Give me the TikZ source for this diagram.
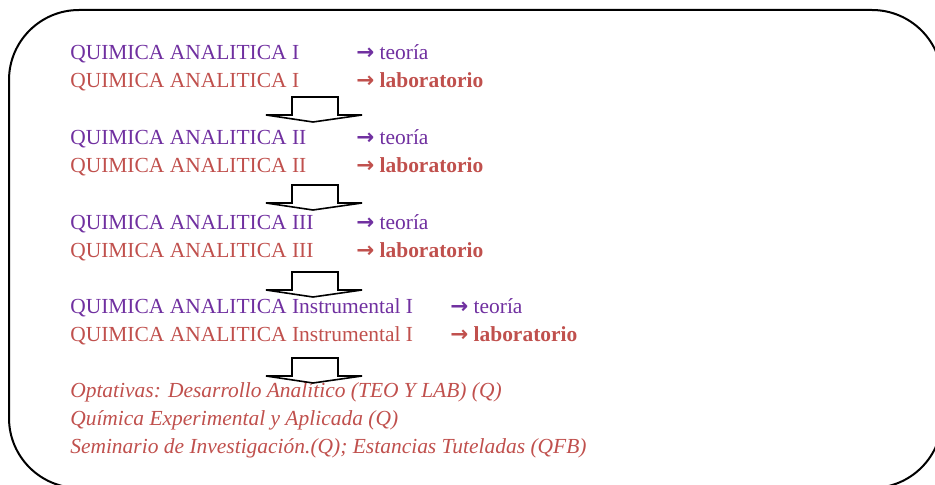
\documentclass[tikz,border=0pt]{standalone}
\usepackage{fontspec}
\setmainfont{Liberation Serif}
\newfontfamily\arrowfont{DejaVu Sans}
\definecolor{qpurple}{HTML}{7030A0}
\definecolor{qred}{HTML}{C0504D}
\newcommand{\qarr}{{\arrowfont\bfseries →}}
\begin{document}
\begin{tikzpicture}[x=0.75pt,y=-0.75pt,
  txt/.style={anchor=base west,inner sep=0pt,font=\fontsize{16.1}{18}\selectfont},
  teo/.style={txt,text=qpurple},
  lab/.style={txt,text=qred},
  opt/.style={txt,text=qred,font=\fontsize{16.1}{18}\selectfont\itshape},
  blockarrow/.style={draw=black,fill=white,line width=1.2pt,line join=miter}]
\useasboundingbox (0,0) rectangle (935,485);
\begin{scope}
  \clip (0,0) rectangle (935,485);
  \draw[line width=1.5pt, rounded corners=52.5pt] (9,10) rectangle (942,488);
\end{scope}

% pair 1
\node[teo] (a1) at (70,60) {QUIMICA ANALITICA I};
\node[teo] (a1r) at (356,60) {\qarr\ teoría};
\node[lab] (b1) at (70,88) {QUIMICA ANALITICA I};
\node[lab] (b1r) at (356,88) {\qarr\ \textbf{laboratorio}};
% pair 2
\node[teo] (a2) at (70,144) {QUIMICA ANALITICA II};
\node[teo] (a2r) at (356,144) {\qarr\ teoría};
\node[lab] (b2) at (70,172) {QUIMICA ANALITICA II};
\node[lab] (b2r) at (356,172) {\qarr\ \textbf{laboratorio}};
% pair 3
\node[teo] (a3) at (70,229) {QUIMICA ANALITICA III};
\node[teo] (a3r) at (356,229) {\qarr\ teoría};
\node[lab] (b3) at (70,257) {QUIMICA ANALITICA III};
\node[lab] (b3r) at (356,257) {\qarr\ \textbf{laboratorio}};
% pair 4
\node[teo] (a4) at (70,313) {QUIMICA ANALITICA Instrumental I};
\node[teo] (a4r) at (450,313) {\qarr\ teoría};
\node[lab] (b4) at (70,341) {QUIMICA ANALITICA Instrumental I};
\node[lab] (b4r) at (450,341) {\qarr\ \textbf{laboratorio}};
% optativas
\node[opt] (o1) at (70,397) {Optativas: Desarrollo Analítico (TEO Y LAB) (Q)};
\node[opt] (o2) at (70,425) {Química Experimental y Aplicada (Q)};
\node[opt] (o3) at (70,453) {Seminario de Investigación.(Q); Estancias Tuteladas (QFB)};

% block arrows
\foreach \t in {97,185,272,358}{
  \draw[blockarrow] (292,\t) -- (338,\t) -- (338,\t+18) -- (362,\t+18)
    -- (313,\t+25) -- (266,\t+18) -- (292,\t+18) -- cycle;
}
\end{tikzpicture}
\end{document}
